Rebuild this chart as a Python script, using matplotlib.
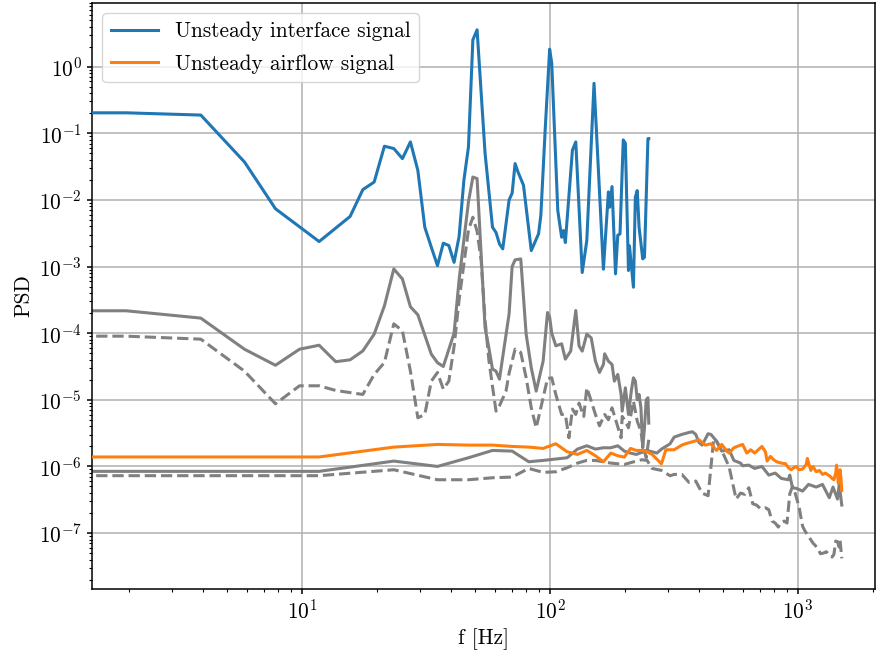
import numpy as np
import matplotlib
matplotlib.use("Agg")
import matplotlib.pyplot as plt

# ---------------- data ----------------
# interface signal spectra: f = k * 250/128 Hz
df_interface = 250.0 / 128.0
# airflow signal spectra: f = k * 1500/128 Hz
df_airflow = 1500.0 / 128.0

blue_k = [0, 1, 2, 3, 4, 6, 8, 9, 10, 11, 12, 13, 14, 15, 16, 17, 18, 19, 20, 21, 22, 23,
          24, 25, 26, 28, 30, 31, 32, 33, 35, 36, 37, 38, 40, 43, 46, 47, 49, 51, 52, 55,
          57, 58, 59, 63, 65, 69, 72, 77, 84, 88, 89, 91, 94, 96, 98, 101, 103, 106, 107,
          111, 113, 115, 117, 121, 123, 127, 128]
blue_log10_psd = [-0.693, -0.693, -0.727, -1.431, -2.133, -2.625, -2.248, -1.846, -1.732,
                  -1.194, -1.229, -1.38, -1.13, -1.556, -2.41, -2.71, -2.986, -2.65, -2.685,
                  -2.937, -2.55, -1.706, -1.205, 0.402, 0.553, -1.30, -2.41, -2.49, -2.66,
                  -2.735, -2.0, -1.90, -1.455, -1.58, -1.78, -2.76, -2.51, -2.23, -0.90,
                  0.262, 0.05, -2.16, -2.56, -2.46, -2.64, -1.255, -1.13, -3.09, -2.61,
                  -0.25, -3.04, -1.88, -2.11, -1.80, -3.11, -2.53, -2.51, -1.10, -1.15,
                  -3.06, -2.69, -3.31, -1.96, -1.86, -2.41, -2.885, -2.86, -1.08, -1.08]

gray_hi_k = [0, 1, 2, 3, 4, 5, 6, 7, 8, 9, 10, 11, 12, 13, 14, 15, 17, 18, 19, 21, 22, 24,
             25, 26, 28, 29, 30, 31, 32, 35, 36, 37, 39, 41, 43, 45, 48, 50, 51, 52, 54, 57,
             59, 62, 65, 67, 69, 72, 75, 78, 81, 84, 85, 88, 91, 93, 96, 99, 100, 103, 106,
             109, 111, 113, 115, 117, 119, 121, 123, 125, 127, 128]
gray_hi_log10_psd = [-3.664, -3.664, -3.774, -4.241, -4.482, -4.241, -4.181, -4.428, -4.40,
                     -4.267, -4.015, -3.59, -3.036, -3.187, -3.604, -3.724, -4.316, -4.443,
                     -4.50, -4.0, -3.2, -2.03, -1.657, -1.68, -3.92, -4.22, -4.54, -4.57,
                     -4.69, -3.71, -3.0, -2.90, -2.886, -4.015, -4.52, -4.87, -4.42, -3.69,
                     -3.76, -4.0, -4.19, -4.16, -4.39, -4.27, -3.66, -4.19, -4.27, -4.015,
                     -4.07, -4.42, -4.59, -4.47, -4.31, -4.42, -4.47, -4.72, -4.62, -4.92,
                     -5.17, -4.82, -5.22, -4.85, -4.67, -4.72, -5.0, -4.92, -5.12, -5.72,
                     -5.42, -5.0, -4.97, -5.35]

gray_hi_dash_k = [0, 1, 2, 3, 4, 5, 6, 7, 9, 10, 11, 12, 13, 14, 15, 16, 17, 18, 19, 20, 21,
                  22, 24, 25, 26, 27, 28, 29, 30, 31, 32, 34, 35, 37, 39, 41, 43, 45, 48, 50,
                  52, 54, 57, 59, 61, 63, 65, 67, 70, 72, 74, 78, 81, 85, 88, 91, 95, 99, 100,
                  103, 106, 111, 115, 119, 121, 125, 128]
gray_hi_dash_log10_psd = [-4.045, -4.045, -4.09, -4.57, -5.06, -4.79, -4.79, -4.86, -4.92,
                          -4.62, -4.44, -3.86, -3.965, -4.57, -5.27, -5.22, -4.72, -4.59,
                          -4.84, -4.72, -4.2, -3.5, -2.45, -2.26, -2.47, -2.91, -3.8, -4.4,
                          -4.8, -5.17, -5.09, -4.87, -4.6, -4.24, -4.29, -4.67, -5.12, -5.42,
                          -4.97, -4.68, -4.67, -4.92, -5.22, -5.22, -5.57, -5.14, -5.22,
                          -5.05, -5.25, -4.82, -4.95, -5.22, -5.39, -5.22, -5.3, -5.12,
                          -5.35, -5.57, -5.25, -5.32, -5.42, -5.02, -5.32, -5.47, -5.67,
                          -5.87, -5.6]

orange_k = [0, 1, 2, 3, 4, 5, 6, 7, 8, 9, 10, 11, 12, 13, 14, 15, 16, 17, 18, 19, 20, 21,
            22, 24, 25, 27, 29, 30, 32, 34, 36, 38, 40, 42, 44, 45, 47, 50, 51, 53, 55, 57,
            61, 63, 64, 66, 68, 70, 73, 76, 78, 80, 82, 84, 86, 89, 92, 93, 96, 98, 101,
            104, 107, 110, 112, 115, 117, 119, 121, 122, 124, 126, 127, 128]
orange_log10_psd = [-5.858, -5.858, -5.71, -5.67, -5.68, -5.68, -5.70, -5.71, -5.73, -5.66,
                    -5.78, -5.82, -5.76, -5.84, -5.93, -5.80, -5.84, -5.86, -5.73, -5.76,
                    -5.76, -5.78, -5.82, -5.96, -5.75, -5.75, -5.68, -5.66, -5.63, -5.60,
                    -5.68, -5.66, -5.76, -5.67, -5.77, -5.80, -5.72, -5.68, -5.67, -5.80,
                    -5.75, -5.80, -5.70, -5.78, -5.92, -5.85, -5.90, -5.93, -5.95, -5.96,
                    -6.02, -6.05, -6.02, -6.0, -6.05, -6.04, -5.97, -5.88, -6.06, -6.0,
                    -6.08, -6.06, -6.12, -6.10, -6.12, -6.15, -6.18, -6.2, -6.1, -5.98,
                    -6.25, -6.05, -6.17, -6.36]

gray_lo_k = [0, 1, 2, 3, 4, 5, 6, 7, 8, 10, 11, 12, 13, 14, 15, 16, 17, 18, 19, 21, 22, 23,
             24, 25, 26, 27, 29, 31, 32, 33, 34, 35, 37, 38, 40, 42, 45, 47, 50, 51, 54, 57,
             61, 65, 69, 73, 78, 79, 81, 84, 89, 94, 101, 107, 114, 118, 123, 125, 128]
gray_lo_log10_psd = [-6.074, -6.074, -5.92, -6.0, -5.87, -5.76, -5.77, -5.93, -5.91, -5.87,
                     -5.74, -5.69, -5.74, -5.72, -5.72, -5.69, -5.77, -5.80, -5.82, -5.76,
                     -5.78, -5.80, -5.74, -5.70, -5.66, -5.56, -5.52, -5.49, -5.48, -5.52,
                     -5.64, -5.68, -5.51, -5.52, -5.62, -5.77, -5.75, -5.91, -5.95, -5.99,
                     -5.98, -6.03, -6.0, -6.13, -6.1, -6.18, -6.2, -6.13, -6.32, -6.33,
                     -6.37, -6.27, -6.31, -6.27, -6.47, -6.31, -6.49, -6.27, -6.58]

gray_lo_dash_k = [0, 1, 2, 3, 4, 5, 6, 7, 8, 9, 10, 11, 12, 13, 15, 17, 19, 20, 21, 22, 24,
                  26, 27, 29, 31, 33, 35, 37, 39, 40, 42, 45, 48, 50, 52, 54, 56, 58, 60, 63,
                  65, 67, 69, 71, 73, 75, 77, 79, 81, 83, 86, 89, 91, 94, 98, 102, 105, 108,
                  111, 114, 117, 119, 121, 123, 125, 126, 128]
gray_lo_dash_log10_psd = [-6.139, -6.139, -6.05, -6.2, -6.2, -6.17, -6.16, -6.03, -6.09,
                          -6.08, -6.02, -5.95, -5.91, -5.91, -5.95, -5.97, -5.92, -5.90,
                          -5.91, -6.03, -6.06, -6.14, -6.12, -6.12, -6.24, -6.22, -6.40,
                          -6.44, -5.58, -5.62, -5.76, -6.01, -6.49, -6.40, -6.42, -6.32,
                          -6.56, -6.58, -6.63, -6.62, -6.65, -6.82, -6.85, -6.91, -6.84,
                          -6.82, -6.85, -6.41, -6.30, -6.40, -6.60, -6.90, -6.97, -7.05,
                          -7.15, -7.22, -7.31, -7.30, -7.28, -7.34, -7.36, -7.32, -7.12,
                          -7.13, -7.21, -7.11, -7.38]

legend_labels = ["Unsteady interface signal", "Unsteady airflow signal"]
x_label = "f [Hz]"
y_label = "PSD"

# ---------------- style ----------------
plt.rcParams.update({
    "font.family": "serif",
    "font.serif": ["cmr10"],
    "mathtext.fontset": "cm",
    "axes.formatter.use_mathtext": True,
    "axes.unicode_minus": False,
    "font.size": 15.4,
    "lines.linewidth": 2.2,
    "axes.linewidth": 1.1,
    "xtick.major.width": 1.1, "ytick.major.width": 1.1,
    "xtick.minor.width": 0.8, "ytick.minor.width": 0.8,
    "grid.linewidth": 1.1,
    "grid.color": "#b0b0b0",
})

fig = plt.figure(figsize=(8.77, 6.51), dpi=100)
ax = fig.add_axes([0.1046, 0.0952, 0.9977 - 0.1046, 0.9959 - 0.0952])


def series(k, logv, df):
    return np.asarray(k) * df, 10.0 ** np.asarray(logv)


ax.plot(*series(blue_k, blue_log10_psd, df_interface), color="tab:blue",
        label=legend_labels[0], zorder=3)
ax.plot(*series(orange_k, orange_log10_psd, df_airflow), color="tab:orange",
        label=legend_labels[1], zorder=3)
ax.plot(*series(gray_hi_k, gray_hi_log10_psd, df_interface), color="gray", zorder=2)
ax.plot(*series(gray_hi_dash_k, gray_hi_dash_log10_psd, df_interface), color="gray",
        ls="--", zorder=2)
ax.plot(*series(gray_lo_k, gray_lo_log10_psd, df_airflow), color="gray", zorder=2)
ax.plot(*series(gray_lo_dash_k, gray_lo_dash_log10_psd, df_airflow), color="gray",
        ls="--", zorder=2)

ax.set_xscale("log")
ax.set_yscale("log")
ax.set_xlim(10 ** 0.152, 10 ** 3.31)
ax.set_ylim(10 ** -7.84, 10 ** 0.96)
ax.set_yticks([10.0 ** e for e in range(-7, 1)])
ax.grid(True, which="major")
ax.set_axisbelow(True)
ax.set_xlabel(x_label)
ax.set_ylabel(y_label)
ax.legend(loc="upper left", handlelength=2.2, labelspacing=0.6)

fig.savefig("out.png", dpi=100)
